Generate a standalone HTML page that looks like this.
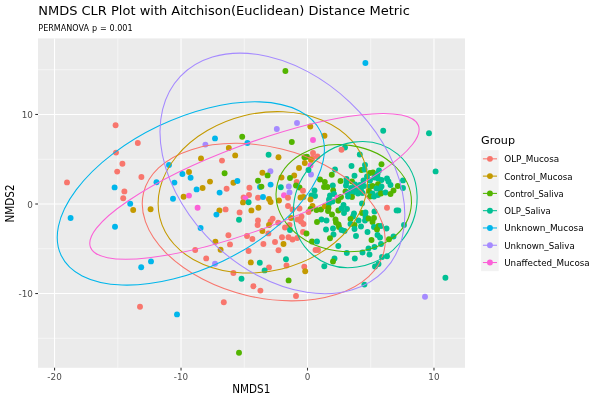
<!DOCTYPE html>
<html><head><meta charset="utf-8"><title>NMDS CLR Plot</title>
<style>html,body{margin:0;padding:0;background:#fff}svg{display:block;will-change:transform}text{font-family:"DejaVu Sans","Liberation Sans",sans-serif;fill:#000}.ax{font-size:8.8px;fill:#4D4D4D}.lt{font-size:8.8px}.t11{font-size:11px}</style></head><body>
<svg width="600" height="400" viewBox="0 0 600 400">
<rect width="600" height="400" fill="#fff"/>
<rect x="38.0" y="38.4" width="427.0" height="329.4" fill="#EBEBEB"/>
<g stroke="#fff" stroke-width="0.53" fill="none"><line x1="117.79" x2="117.79" y1="38.4" y2="367.8"/><line x1="244.26" x2="244.26" y1="38.4" y2="367.8"/><line x1="370.74" x2="370.74" y1="38.4" y2="367.8"/><line y1="338.29" y2="338.29" x1="38.0" x2="465.0"/><line y1="248.76" y2="248.76" x1="38.0" x2="465.0"/><line y1="159.24" y2="159.24" x1="38.0" x2="465.0"/><line y1="69.71" y2="69.71" x1="38.0" x2="465.0"/></g>
<g stroke="#fff" stroke-width="1.07" fill="none"><line x1="54.56" x2="54.56" y1="38.4" y2="367.8"/><line x1="181.03" x2="181.03" y1="38.4" y2="367.8"/><line x1="307.50" x2="307.50" y1="38.4" y2="367.8"/><line x1="433.97" x2="433.97" y1="38.4" y2="367.8"/><line y1="293.53" y2="293.53" x1="38.0" x2="465.0"/><line y1="204.00" y2="204.00" x1="38.0" x2="465.0"/><line y1="114.47" y2="114.47" x1="38.0" x2="465.0"/></g>
<g stroke="#333" stroke-width="1.07"><line x1="54.56" x2="54.56" y1="367.8" y2="370.54"/><line x1="181.03" x2="181.03" y1="367.8" y2="370.54"/><line x1="307.50" x2="307.50" y1="367.8" y2="370.54"/><line x1="433.97" x2="433.97" y1="367.8" y2="370.54"/><line y1="293.53" y2="293.53" x1="35.26" x2="38.0"/><line y1="204.00" y2="204.00" x1="35.26" x2="38.0"/><line y1="114.47" y2="114.47" x1="35.26" x2="38.0"/></g>
<text class="ax" x="54.56" y="380.1" text-anchor="middle">-20</text><text class="ax" x="181.03" y="380.1" text-anchor="middle">-10</text><text class="ax" x="307.50" y="380.1" text-anchor="middle">0</text><text class="ax" x="433.97" y="380.1" text-anchor="middle">10</text><text class="ax" x="32.9" y="297" text-anchor="end">-10</text><text class="ax" x="32.9" y="208" text-anchor="end">0</text><text class="ax" x="32.9" y="118" text-anchor="end">10</text>
<text x="38.2" y="14.9" font-size="13.0">NMDS CLR Plot with Aitchison(Euclidean) Distance Metric</text>
<text x="38.3" y="30.9" font-size="8.05" word-spacing="0.35">PERMANOVA p = 0.001</text>
<text class="t11" style="font-size:11.5px" x="232.3" y="392.8" textLength="38" lengthAdjust="spacingAndGlyphs">NMDS1</text>
<text class="t11" style="font-size:11.5px" transform="translate(13.9,222.5) rotate(-90)" textLength="38" lengthAdjust="spacingAndGlyphs">NMDS2</text>
<text class="t11" x="481" y="143.8" style="font-size:11.2px">Group</text>
<rect x="481.1" y="150.2" width="17.6" height="120.96" fill="#F2F2F2"/>
<line x1="482.9" x2="497" y1="158.84" y2="158.84" stroke="#F8766D" stroke-width="1.07"/><circle cx="489.95" cy="158.84" r="2.95" fill="#F8766D"/><text class="lt" x="504.2" y="162.34" textLength="55.1" lengthAdjust="spacingAndGlyphs">OLP_Mucosa</text>
<line x1="482.9" x2="497" y1="176.12" y2="176.12" stroke="#C49A00" stroke-width="1.07"/><circle cx="489.95" cy="176.12" r="2.95" fill="#C49A00"/><text class="lt" x="504.2" y="179.62" textLength="68.5" lengthAdjust="spacingAndGlyphs">Control_Mucosa</text>
<line x1="482.9" x2="497" y1="193.40" y2="193.40" stroke="#53B400" stroke-width="1.07"/><circle cx="489.95" cy="193.40" r="2.95" fill="#53B400"/><text class="lt" x="504.2" y="196.90" textLength="59.5" lengthAdjust="spacingAndGlyphs">Control_Saliva</text>
<line x1="482.9" x2="497" y1="210.68" y2="210.68" stroke="#00C094" stroke-width="1.07"/><circle cx="489.95" cy="210.68" r="2.95" fill="#00C094"/><text class="lt" x="504.2" y="214.18" textLength="46.5" lengthAdjust="spacingAndGlyphs">OLP_Saliva</text>
<line x1="482.9" x2="497" y1="227.96" y2="227.96" stroke="#00B6EB" stroke-width="1.07"/><circle cx="489.95" cy="227.96" r="2.95" fill="#00B6EB"/><text class="lt" x="504.2" y="231.46" textLength="79.5" lengthAdjust="spacingAndGlyphs">Unknown_Mucosa</text>
<line x1="482.9" x2="497" y1="245.24" y2="245.24" stroke="#A58AFF" stroke-width="1.07"/><circle cx="489.95" cy="245.24" r="2.95" fill="#A58AFF"/><text class="lt" x="504.2" y="248.74" textLength="70.5" lengthAdjust="spacingAndGlyphs">Unknown_Saliva</text>
<line x1="482.9" x2="497" y1="262.52" y2="262.52" stroke="#FB61D7" stroke-width="1.07"/><circle cx="489.95" cy="262.52" r="2.95" fill="#FB61D7"/><text class="lt" x="504.2" y="266.02" textLength="85.5" lengthAdjust="spacingAndGlyphs">Unaffected_Mucosa</text>
<defs><clipPath id="cp"><rect x="38.0" y="38.4" width="427.0" height="329.4"/></clipPath></defs>
<g clip-path="url(#cp)">
<g><circle cx="115.6" cy="125.2" r="2.95" fill="#F8766D"/><circle cx="137.8" cy="143.0" r="2.95" fill="#F8766D"/><circle cx="116.0" cy="152.6" r="2.95" fill="#F8766D"/><circle cx="122.4" cy="163.8" r="2.95" fill="#F8766D"/><circle cx="117.2" cy="171.6" r="2.95" fill="#F8766D"/><circle cx="141.4" cy="177.0" r="2.95" fill="#F8766D"/>
<circle cx="67.0" cy="182.4" r="2.95" fill="#F8766D"/><circle cx="114.6" cy="187.4" r="2.95" fill="#00B6EB"/><circle cx="124.4" cy="191.4" r="2.95" fill="#F8766D"/><circle cx="123.2" cy="198.2" r="2.95" fill="#F8766D"/><circle cx="130.2" cy="203.8" r="2.95" fill="#00B6EB"/><circle cx="133.2" cy="210.0" r="2.95" fill="#C49A00"/>
<circle cx="150.6" cy="209.2" r="2.95" fill="#C49A00"/><circle cx="70.6" cy="218.0" r="2.95" fill="#00B6EB"/><circle cx="115.0" cy="226.8" r="2.95" fill="#00B6EB"/><circle cx="156.5" cy="182.2" r="2.95" fill="#00B6EB"/><circle cx="141.2" cy="267.2" r="2.95" fill="#00B6EB"/><circle cx="151.0" cy="261.4" r="2.95" fill="#00B6EB"/>
<circle cx="140.0" cy="306.8" r="2.95" fill="#F8766D"/><circle cx="276.8" cy="129.0" r="2.95" fill="#A58AFF"/><circle cx="242.2" cy="136.8" r="2.95" fill="#53B400"/><circle cx="215.0" cy="138.4" r="2.95" fill="#00B6EB"/><circle cx="247.4" cy="143.0" r="2.95" fill="#00B6EB"/><circle cx="205.4" cy="144.6" r="2.95" fill="#A58AFF"/>
<circle cx="228.8" cy="148.0" r="2.95" fill="#C49A00"/><circle cx="235.2" cy="155.4" r="2.95" fill="#C49A00"/><circle cx="268.6" cy="154.8" r="2.95" fill="#00C094"/><circle cx="278.5" cy="157.3" r="2.95" fill="#C49A00"/><circle cx="201.0" cy="158.4" r="2.95" fill="#C49A00"/><circle cx="222.0" cy="160.6" r="2.95" fill="#F8766D"/>
<circle cx="169.0" cy="165.0" r="2.95" fill="#00B6EB"/><circle cx="189.0" cy="172.0" r="2.95" fill="#C49A00"/><circle cx="182.4" cy="174.0" r="2.95" fill="#00B6EB"/><circle cx="224.6" cy="173.2" r="2.95" fill="#53B400"/><circle cx="262.4" cy="172.8" r="2.95" fill="#C49A00"/><circle cx="270.4" cy="171.2" r="2.95" fill="#A58AFF"/>
<circle cx="267.6" cy="175.4" r="2.95" fill="#53B400"/><circle cx="190.6" cy="177.8" r="2.95" fill="#00B6EB"/><circle cx="174.4" cy="182.6" r="2.95" fill="#00B6EB"/><circle cx="210.0" cy="181.6" r="2.95" fill="#C49A00"/><circle cx="233.4" cy="182.8" r="2.95" fill="#C49A00"/><circle cx="237.4" cy="181.0" r="2.95" fill="#00B6EB"/>
<circle cx="258.0" cy="180.8" r="2.95" fill="#53B400"/><circle cx="270.6" cy="184.6" r="2.95" fill="#00B6EB"/><circle cx="260.0" cy="187.0" r="2.95" fill="#00B6EB"/><circle cx="261.4" cy="186.6" r="2.95" fill="#53B400"/><circle cx="249.4" cy="187.8" r="2.95" fill="#F8766D"/><circle cx="202.6" cy="188.0" r="2.95" fill="#C49A00"/>
<circle cx="196.6" cy="189.4" r="2.95" fill="#00B6EB"/><circle cx="226.6" cy="188.8" r="2.95" fill="#F8766D"/><circle cx="219.6" cy="192.6" r="2.95" fill="#00B6EB"/><circle cx="249.0" cy="195.0" r="2.95" fill="#F8766D"/><circle cx="243.6" cy="197.4" r="2.95" fill="#F8766D"/><circle cx="245.4" cy="198.5" r="2.95" fill="#FB61D7"/>
<circle cx="258.0" cy="197.7" r="2.95" fill="#F8766D"/><circle cx="263.0" cy="197.0" r="2.95" fill="#00B6EB"/><circle cx="269.0" cy="199.0" r="2.95" fill="#C49A00"/><circle cx="183.6" cy="196.8" r="2.95" fill="#C49A00"/><circle cx="189.0" cy="195.6" r="2.95" fill="#FB61D7"/><circle cx="173.0" cy="198.7" r="2.95" fill="#00B6EB"/>
<circle cx="197.6" cy="207.8" r="2.95" fill="#FB61D7"/><circle cx="219.4" cy="210.4" r="2.95" fill="#C49A00"/><circle cx="225.6" cy="209.4" r="2.95" fill="#F8766D"/><circle cx="216.4" cy="214.6" r="2.95" fill="#00B6EB"/><circle cx="239.6" cy="212.4" r="2.95" fill="#F8766D"/><circle cx="239.0" cy="219.8" r="2.95" fill="#00C094"/>
<circle cx="243.0" cy="202.4" r="2.95" fill="#C49A00"/><circle cx="248.6" cy="202.2" r="2.95" fill="#00C094"/><circle cx="251.4" cy="210.4" r="2.95" fill="#C49A00"/><circle cx="258.4" cy="207.8" r="2.95" fill="#C49A00"/><circle cx="270.6" cy="202.0" r="2.95" fill="#C49A00"/><circle cx="258.0" cy="220.4" r="2.95" fill="#F8766D"/>
<circle cx="257.6" cy="225.0" r="2.95" fill="#F8766D"/><circle cx="272.6" cy="218.6" r="2.95" fill="#F8766D"/><circle cx="270.6" cy="221.4" r="2.95" fill="#F8766D"/><circle cx="269.0" cy="225.0" r="2.95" fill="#C49A00"/><circle cx="278.2" cy="222.8" r="2.95" fill="#F8766D"/><circle cx="200.6" cy="228.0" r="2.95" fill="#00B6EB"/>
<circle cx="228.4" cy="235.2" r="2.95" fill="#F8766D"/><circle cx="247.0" cy="236.0" r="2.95" fill="#F8766D"/><circle cx="262.4" cy="231.0" r="2.95" fill="#C49A00"/><circle cx="268.4" cy="233.4" r="2.95" fill="#F8766D"/><circle cx="252.4" cy="239.0" r="2.95" fill="#F8766D"/><circle cx="215.4" cy="241.8" r="2.95" fill="#C49A00"/>
<circle cx="230.0" cy="244.4" r="2.95" fill="#F8766D"/><circle cx="263.4" cy="244.0" r="2.95" fill="#F8766D"/><circle cx="275.0" cy="242.0" r="2.95" fill="#F8766D"/><circle cx="220.6" cy="249.8" r="2.95" fill="#C49A00"/><circle cx="195.2" cy="250.0" r="2.95" fill="#F8766D"/><circle cx="248.6" cy="251.0" r="2.95" fill="#F8766D"/>
<circle cx="278.5" cy="250.3" r="2.95" fill="#F8766D"/><circle cx="206.2" cy="258.4" r="2.95" fill="#F8766D"/><circle cx="215.0" cy="263.8" r="2.95" fill="#A58AFF"/><circle cx="250.8" cy="262.4" r="2.95" fill="#C49A00"/><circle cx="259.8" cy="262.8" r="2.95" fill="#00C094"/><circle cx="269.0" cy="267.4" r="2.95" fill="#F8766D"/>
<circle cx="264.6" cy="270.4" r="2.95" fill="#00C094"/><circle cx="233.4" cy="273.0" r="2.95" fill="#F8766D"/><circle cx="241.5" cy="278.8" r="2.95" fill="#00C094"/><circle cx="253.4" cy="286.2" r="2.95" fill="#F8766D"/><circle cx="260.4" cy="290.6" r="2.95" fill="#F8766D"/><circle cx="223.8" cy="302.2" r="2.95" fill="#F8766D"/>
<circle cx="177.0" cy="314.4" r="2.95" fill="#00B6EB"/><circle cx="239.0" cy="352.8" r="2.95" fill="#53B400"/><circle cx="285.4" cy="71.0" r="2.95" fill="#53B400"/><circle cx="365.4" cy="63.0" r="2.95" fill="#00B6EB"/><circle cx="297.0" cy="123.0" r="2.95" fill="#A58AFF"/><circle cx="310.3" cy="126.5" r="2.95" fill="#C49A00"/>
<circle cx="324.5" cy="135.8" r="2.95" fill="#C49A00"/><circle cx="313.0" cy="140.0" r="2.95" fill="#FB61D7"/><circle cx="291.8" cy="142.0" r="2.95" fill="#53B400"/><circle cx="304.5" cy="157.3" r="2.95" fill="#53B400"/><circle cx="307.0" cy="156.8" r="2.95" fill="#53B400"/><circle cx="313.0" cy="153.0" r="2.95" fill="#F8766D"/>
<circle cx="317.5" cy="156.5" r="2.95" fill="#F8766D"/><circle cx="312.5" cy="158.0" r="2.95" fill="#F8766D"/><circle cx="383.2" cy="130.8" r="2.95" fill="#00C094"/><circle cx="345.0" cy="147.5" r="2.95" fill="#00C094"/><circle cx="341.5" cy="149.8" r="2.95" fill="#F8766D"/><circle cx="359.8" cy="154.5" r="2.95" fill="#00C094"/>
<circle cx="304.8" cy="163.0" r="2.95" fill="#C49A00"/><circle cx="311.0" cy="160.0" r="2.95" fill="#C49A00"/><circle cx="310.5" cy="165.5" r="2.95" fill="#FB61D7"/><circle cx="299.0" cy="168.0" r="2.95" fill="#C49A00"/><circle cx="311.0" cy="174.5" r="2.95" fill="#A58AFF"/><circle cx="308.5" cy="170.0" r="2.95" fill="#00C094"/>
<circle cx="294.2" cy="175.5" r="2.95" fill="#C49A00"/><circle cx="281.5" cy="177.5" r="2.95" fill="#C49A00"/><circle cx="290.0" cy="178.0" r="2.95" fill="#53B400"/><circle cx="296.7" cy="182.0" r="2.95" fill="#F8766D"/><circle cx="296.0" cy="185.5" r="2.95" fill="#53B400"/><circle cx="299.5" cy="187.5" r="2.95" fill="#53B400"/>
<circle cx="288.8" cy="186.5" r="2.95" fill="#A58AFF"/><circle cx="280.8" cy="187.2" r="2.95" fill="#00C094"/><circle cx="303.0" cy="190.8" r="2.95" fill="#F8766D"/><circle cx="289.5" cy="192.5" r="2.95" fill="#A58AFF"/><circle cx="284.0" cy="195.2" r="2.95" fill="#FB61D7"/><circle cx="288.0" cy="197.8" r="2.95" fill="#F8766D"/>
<circle cx="300.5" cy="197.5" r="2.95" fill="#C49A00"/><circle cx="303.5" cy="197.0" r="2.95" fill="#C49A00"/><circle cx="314.5" cy="190.5" r="2.95" fill="#00C094"/><circle cx="311.5" cy="195.5" r="2.95" fill="#00C094"/><circle cx="315.0" cy="196.0" r="2.95" fill="#00C094"/><circle cx="320.0" cy="179.5" r="2.95" fill="#53B400"/>
<circle cx="324.8" cy="182.0" r="2.95" fill="#53B400"/><circle cx="324.0" cy="187.0" r="2.95" fill="#53B400"/><circle cx="327.5" cy="187.0" r="2.95" fill="#53B400"/><circle cx="332.8" cy="185.5" r="2.95" fill="#00C094"/><circle cx="333.2" cy="190.5" r="2.95" fill="#53B400"/><circle cx="330.0" cy="195.5" r="2.95" fill="#00C094"/>
<circle cx="334.0" cy="194.0" r="2.95" fill="#00C094"/><circle cx="331.8" cy="174.8" r="2.95" fill="#53B400"/><circle cx="335.0" cy="169.5" r="2.95" fill="#00C094"/><circle cx="337.5" cy="197.5" r="2.95" fill="#FB61D7"/><circle cx="351.5" cy="166.0" r="2.95" fill="#00C094"/><circle cx="365.0" cy="165.0" r="2.95" fill="#00C094"/>
<circle cx="381.5" cy="164.2" r="2.95" fill="#53B400"/><circle cx="361.5" cy="170.0" r="2.95" fill="#53B400"/><circle cx="364.5" cy="169.5" r="2.95" fill="#00C094"/><circle cx="370.0" cy="173.0" r="2.95" fill="#53B400"/><circle cx="373.0" cy="172.5" r="2.95" fill="#53B400"/><circle cx="379.0" cy="170.5" r="2.95" fill="#00C094"/>
<circle cx="377.5" cy="174.0" r="2.95" fill="#00C094"/><circle cx="354.5" cy="175.8" r="2.95" fill="#00C094"/><circle cx="367.0" cy="176.5" r="2.95" fill="#00C094"/><circle cx="374.5" cy="177.5" r="2.95" fill="#00C094"/><circle cx="378.0" cy="178.5" r="2.95" fill="#00C094"/><circle cx="381.5" cy="180.0" r="2.95" fill="#00C094"/>
<circle cx="387.0" cy="178.5" r="2.95" fill="#00C094"/><circle cx="388.5" cy="181.5" r="2.95" fill="#00C094"/><circle cx="390.5" cy="185.0" r="2.95" fill="#00C094"/><circle cx="340.5" cy="181.0" r="2.95" fill="#53B400"/><circle cx="346.5" cy="179.0" r="2.95" fill="#00C094"/><circle cx="346.5" cy="182.0" r="2.95" fill="#00C094"/>
<circle cx="352.0" cy="181.5" r="2.95" fill="#53B400"/><circle cx="363.5" cy="180.5" r="2.95" fill="#00C094"/><circle cx="370.0" cy="180.5" r="2.95" fill="#00C094"/><circle cx="355.0" cy="184.5" r="2.95" fill="#00C094"/><circle cx="346.0" cy="185.5" r="2.95" fill="#00C094"/><circle cx="360.0" cy="185.0" r="2.95" fill="#00C094"/>
<circle cx="364.0" cy="186.0" r="2.95" fill="#00C094"/><circle cx="378.0" cy="184.2" r="2.95" fill="#53B400"/><circle cx="370.0" cy="186.5" r="2.95" fill="#00C094"/><circle cx="372.5" cy="186.0" r="2.95" fill="#53B400"/><circle cx="381.5" cy="186.5" r="2.95" fill="#00C094"/><circle cx="376.5" cy="188.5" r="2.95" fill="#00C094"/>
<circle cx="380.0" cy="189.5" r="2.95" fill="#00C094"/><circle cx="351.0" cy="188.0" r="2.95" fill="#00C094"/><circle cx="356.0" cy="189.0" r="2.95" fill="#00C094"/><circle cx="361.0" cy="190.0" r="2.95" fill="#00C094"/><circle cx="345.5" cy="191.5" r="2.95" fill="#53B400"/><circle cx="348.0" cy="193.0" r="2.95" fill="#00C094"/>
<circle cx="353.0" cy="192.5" r="2.95" fill="#00C094"/><circle cx="358.0" cy="193.5" r="2.95" fill="#00C094"/><circle cx="362.5" cy="193.0" r="2.95" fill="#00C094"/><circle cx="369.0" cy="191.0" r="2.95" fill="#53B400"/><circle cx="372.5" cy="193.5" r="2.95" fill="#00C094"/><circle cx="378.0" cy="195.0" r="2.95" fill="#00C094"/>
<circle cx="381.0" cy="193.5" r="2.95" fill="#53B400"/><circle cx="385.5" cy="192.5" r="2.95" fill="#00C094"/><circle cx="393.5" cy="190.5" r="2.95" fill="#53B400"/><circle cx="390.5" cy="194.0" r="2.95" fill="#53B400"/><circle cx="397.8" cy="186.0" r="2.95" fill="#53B400"/><circle cx="341.0" cy="197.0" r="2.95" fill="#53B400"/>
<circle cx="352.0" cy="197.0" r="2.95" fill="#53B400"/><circle cx="348.0" cy="196.5" r="2.95" fill="#00C094"/><circle cx="370.0" cy="196.5" r="2.95" fill="#53B400"/><circle cx="374.0" cy="196.5" r="2.95" fill="#00C094"/><circle cx="403.0" cy="180.4" r="2.95" fill="#00C094"/><circle cx="403.0" cy="188.0" r="2.95" fill="#00C094"/>
<circle cx="279.0" cy="200.5" r="2.95" fill="#C49A00"/><circle cx="310.5" cy="199.5" r="2.95" fill="#C49A00"/><circle cx="288.0" cy="206.0" r="2.95" fill="#F8766D"/><circle cx="292.5" cy="209.5" r="2.95" fill="#F8766D"/><circle cx="299.5" cy="208.5" r="2.95" fill="#F8766D"/><circle cx="312.5" cy="206.0" r="2.95" fill="#C49A00"/>
<circle cx="310.5" cy="209.0" r="2.95" fill="#53B400"/><circle cx="308.5" cy="212.0" r="2.95" fill="#F8766D"/><circle cx="316.5" cy="210.0" r="2.95" fill="#53B400"/><circle cx="321.0" cy="209.5" r="2.95" fill="#53B400"/><circle cx="324.8" cy="206.2" r="2.95" fill="#C49A00"/><circle cx="329.0" cy="199.5" r="2.95" fill="#00C094"/>
<circle cx="332.5" cy="201.5" r="2.95" fill="#00C094"/><circle cx="329.0" cy="203.5" r="2.95" fill="#00C094"/><circle cx="328.5" cy="208.0" r="2.95" fill="#53B400"/><circle cx="328.0" cy="211.0" r="2.95" fill="#53B400"/><circle cx="338.3" cy="200.7" r="2.95" fill="#53B400"/><circle cx="338.3" cy="210.5" r="2.95" fill="#53B400"/>
<circle cx="332.0" cy="214.5" r="2.95" fill="#53B400"/><circle cx="291.0" cy="218.0" r="2.95" fill="#C49A00"/><circle cx="301.5" cy="216.5" r="2.95" fill="#F8766D"/><circle cx="297.5" cy="219.5" r="2.95" fill="#F8766D"/><circle cx="301.0" cy="221.5" r="2.95" fill="#F8766D"/><circle cx="303.5" cy="224.0" r="2.95" fill="#F8766D"/>
<circle cx="321.5" cy="219.5" r="2.95" fill="#00C094"/><circle cx="326.5" cy="220.5" r="2.95" fill="#00C094"/><circle cx="317.0" cy="222.0" r="2.95" fill="#53B400"/><circle cx="335.5" cy="219.5" r="2.95" fill="#53B400"/><circle cx="336.0" cy="222.5" r="2.95" fill="#53B400"/><circle cx="338.5" cy="224.5" r="2.95" fill="#53B400"/>
<circle cx="339.0" cy="227.0" r="2.95" fill="#53B400"/><circle cx="289.5" cy="225.0" r="2.95" fill="#F8766D"/><circle cx="285.0" cy="227.5" r="2.95" fill="#F8766D"/><circle cx="290.0" cy="230.0" r="2.95" fill="#00C094"/><circle cx="303.0" cy="232.0" r="2.95" fill="#F8766D"/><circle cx="306.5" cy="233.5" r="2.95" fill="#53B400"/>
<circle cx="326.0" cy="229.5" r="2.95" fill="#00C094"/><circle cx="333.0" cy="228.5" r="2.95" fill="#00C094"/><circle cx="333.5" cy="234.5" r="2.95" fill="#00C094"/><circle cx="330.0" cy="238.3" r="2.95" fill="#53B400"/><circle cx="282.0" cy="237.3" r="2.95" fill="#F8766D"/><circle cx="288.5" cy="237.3" r="2.95" fill="#F8766D"/>
<circle cx="292.5" cy="239.5" r="2.95" fill="#F8766D"/><circle cx="297.2" cy="238.0" r="2.95" fill="#F8766D"/><circle cx="343.5" cy="205.0" r="2.95" fill="#00C094"/><circle cx="347.0" cy="209.0" r="2.95" fill="#00C094"/><circle cx="341.5" cy="208.5" r="2.95" fill="#00C094"/><circle cx="344.0" cy="213.0" r="2.95" fill="#00C094"/>
<circle cx="362.0" cy="203.5" r="2.95" fill="#00C094"/><circle cx="387.0" cy="207.8" r="2.95" fill="#F8766D"/><circle cx="396.6" cy="210.4" r="2.95" fill="#00C094"/><circle cx="398.3" cy="210.4" r="2.95" fill="#00C094"/><circle cx="374.5" cy="211.5" r="2.95" fill="#00C094"/><circle cx="354.0" cy="213.5" r="2.95" fill="#00C094"/>
<circle cx="353.0" cy="216.5" r="2.95" fill="#00C094"/><circle cx="362.0" cy="213.0" r="2.95" fill="#53B400"/><circle cx="365.5" cy="212.5" r="2.95" fill="#00C094"/><circle cx="365.5" cy="216.5" r="2.95" fill="#00C094"/><circle cx="350.5" cy="219.0" r="2.95" fill="#53B400"/><circle cx="358.5" cy="220.5" r="2.95" fill="#00C094"/>
<circle cx="365.0" cy="220.5" r="2.95" fill="#00C094"/><circle cx="368.5" cy="218.5" r="2.95" fill="#53B400"/><circle cx="374.0" cy="218.0" r="2.95" fill="#53B400"/><circle cx="372.5" cy="222.0" r="2.95" fill="#53B400"/><circle cx="350.5" cy="224.0" r="2.95" fill="#00C094"/><circle cx="354.5" cy="225.0" r="2.95" fill="#53B400"/>
<circle cx="361.0" cy="226.5" r="2.95" fill="#00C094"/><circle cx="354.5" cy="229.0" r="2.95" fill="#00C094"/><circle cx="374.0" cy="227.0" r="2.95" fill="#00C094"/><circle cx="378.5" cy="226.0" r="2.95" fill="#53B400"/><circle cx="381.0" cy="226.0" r="2.95" fill="#00C094"/><circle cx="377.0" cy="229.5" r="2.95" fill="#53B400"/>
<circle cx="386.5" cy="228.5" r="2.95" fill="#00C094"/><circle cx="341.5" cy="230.0" r="2.95" fill="#00C094"/><circle cx="344.5" cy="231.0" r="2.95" fill="#00C094"/><circle cx="367.5" cy="232.0" r="2.95" fill="#00C094"/><circle cx="356.0" cy="236.0" r="2.95" fill="#00C094"/><circle cx="377.5" cy="235.0" r="2.95" fill="#00C094"/>
<circle cx="380.0" cy="237.5" r="2.95" fill="#00C094"/><circle cx="393.5" cy="236.5" r="2.95" fill="#00C094"/><circle cx="389.0" cy="239.2" r="2.95" fill="#53B400"/><circle cx="404.0" cy="225.0" r="2.95" fill="#00C094"/><circle cx="283.5" cy="244.0" r="2.95" fill="#C49A00"/><circle cx="312.0" cy="241.5" r="2.95" fill="#53B400"/>
<circle cx="317.0" cy="241.5" r="2.95" fill="#00C094"/><circle cx="315.5" cy="250.0" r="2.95" fill="#F8766D"/><circle cx="318.0" cy="250.0" r="2.95" fill="#F8766D"/><circle cx="338.3" cy="246.0" r="2.95" fill="#00C094"/><circle cx="286.0" cy="259.3" r="2.95" fill="#00C094"/><circle cx="286.5" cy="265.5" r="2.95" fill="#F8766D"/>
<circle cx="304.3" cy="266.7" r="2.95" fill="#F8766D"/><circle cx="305.2" cy="271.2" r="2.95" fill="#C49A00"/><circle cx="334.5" cy="258.5" r="2.95" fill="#00C094"/><circle cx="333.0" cy="261.5" r="2.95" fill="#53B400"/><circle cx="324.3" cy="266.3" r="2.95" fill="#00C094"/><circle cx="371.5" cy="240.0" r="2.95" fill="#53B400"/>
<circle cx="381.0" cy="244.0" r="2.95" fill="#00C094"/><circle cx="374.5" cy="247.0" r="2.95" fill="#00C094"/><circle cx="368.5" cy="248.5" r="2.95" fill="#00C094"/><circle cx="346.8" cy="253.0" r="2.95" fill="#00C094"/><circle cx="362.5" cy="252.5" r="2.95" fill="#00C094"/><circle cx="369.5" cy="254.5" r="2.95" fill="#00C094"/>
<circle cx="354.8" cy="258.5" r="2.95" fill="#00C094"/><circle cx="382.0" cy="257.0" r="2.95" fill="#00C094"/><circle cx="387.0" cy="256.3" r="2.95" fill="#00C094"/><circle cx="378.5" cy="264.0" r="2.95" fill="#00C094"/><circle cx="375.0" cy="266.5" r="2.95" fill="#00C094"/><circle cx="288.6" cy="280.4" r="2.95" fill="#53B400"/>
<circle cx="296.0" cy="296.0" r="2.95" fill="#F8766D"/><circle cx="364.4" cy="284.6" r="2.95" fill="#00C094"/><circle cx="429.0" cy="133.2" r="2.95" fill="#00C094"/><circle cx="435.6" cy="171.4" r="2.95" fill="#00C094"/><circle cx="445.4" cy="277.8" r="2.95" fill="#00C094"/><circle cx="425.0" cy="296.8" r="2.95" fill="#A58AFF"/>
</g>
<g fill="none" stroke-width="1.07"><ellipse cx="263.76" cy="222.09" rx="123.73" ry="75.24" transform="rotate(-166.27 263.76 222.09)" stroke="#F8766D"/>
<ellipse cx="262.84" cy="192.33" rx="106.1" ry="78.89" transform="rotate(166.09 262.84 192.33)" stroke="#C49A00"/>
<ellipse cx="343.76" cy="198.19" rx="67.96" ry="53.16" transform="rotate(-171.63 343.76 198.19)" stroke="#53B400"/>
<ellipse cx="355.26" cy="204.58" rx="65.88" ry="58.85" transform="rotate(-49.9 355.26 204.58)" stroke="#00C094"/>
<ellipse cx="190.83" cy="193.47" rx="143.73" ry="74.77" transform="rotate(154.41 190.83 193.47)" stroke="#00B6EB"/>
<ellipse cx="282.4" cy="173.45" rx="140.82" ry="98.12" transform="rotate(-136.44 282.4 173.45)" stroke="#A58AFF"/>
<ellipse cx="254.45" cy="186.36" rx="174.92" ry="42.76" transform="rotate(159.64 254.45 186.36)" stroke="#FB61D7"/>
</g>
</g>
</svg>
</body></html>
